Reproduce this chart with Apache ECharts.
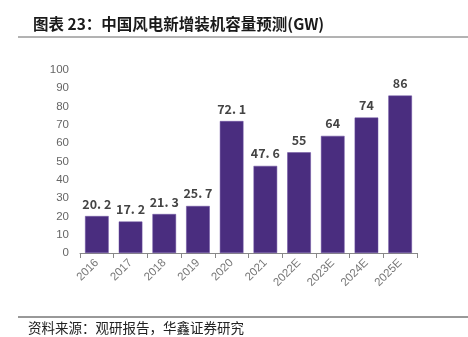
<!DOCTYPE html>
<html><head><meta charset="utf-8">
<script src="https://cdn.jsdelivr.net/npm/echarts@6/dist/echarts.min.js"></script>
<style>html,body{margin:0;padding:0;background:#fff}#c{width:468px;height:337px}</style>
</head><body><div id="c"></div>
<script>
const categories = ['2016','2017','2018','2019','2020','2021','2022E','2023E','2024E','2025E'];
const values = [20.2, 17.2, 21.3, 25.7, 72.1, 47.6, 55, 64, 74, 86];
const valueLabels = ['20. 2','17. 2','21. 3','25. 7','72. 1','47. 6','55','64','74','86'];
const yTicks = [0,10,20,30,40,50,60,70,80,90,100];
const titleText = '图表 23：中国风电新增装机容量预测(GW)';
const sourceText = '资料来源：观研报告，华鑫证券研究';

const chart = echarts.init(document.getElementById('c'), null, {renderer:'canvas'});
chart.setOption({
  animation:false,
  backgroundColor:'#fff',
  title:[
    {text:titleText, left:28, top:11, textStyle:{fontFamily:'Noto Sans CJK SC', fontSize:15.5, fontWeight:'bold', color:'#1a1a1a'}},
    {text:sourceText, left:28, top:320, padding:0, textStyle:{fontFamily:'Noto Sans CJK SC', fontSize:13.5, lineHeight:16, fontWeight:'normal', color:'#222'}}
  ],
  graphic:[
    {type:'line', shape:{x1:18,y1:37,x2:468,y2:37}, style:{stroke:'#666', lineWidth:1}},
    {type:'line', shape:{x1:18,y1:317,x2:468,y2:317}, style:{stroke:'#333', lineWidth:1}}
  ],
  grid:{left:80, right:51, top:70, bottom:84},
  xAxis:{
    type:'category', data:categories,
    axisLine:{lineStyle:{color:'#888'}},
    axisTick:{show:true, length:5, lineStyle:{color:'#888'}},
    axisLabel:{rotate:45, color:'#777', fontSize:11.5, fontFamily:'Liberation Sans', margin:8, interval:0}
  },
  yAxis:{
    type:'value', min:0, max:100, interval:10,
    axisLine:{show:false}, axisTick:{show:false}, splitLine:{show:false},
    axisLabel:{color:'#666', fontSize:11.5, fontFamily:'Liberation Sans', margin:11,
      formatter:v=>yTicks.includes(v)?String(v):''}
  },
  series:[{
    type:'bar', data:values, barWidth:'70%',
    itemStyle:{color:'#4a2d7f', borderColor:'#6a4fa0', borderWidth:0.5},
    label:{show:true, position:'top', distance:6, color:'#444', fontSize:12.5, fontWeight:'bold', fontFamily:'Noto Sans CJK SC',
      formatter:p=>valueLabels[p.dataIndex]}
  }]
});
</script></body></html>
